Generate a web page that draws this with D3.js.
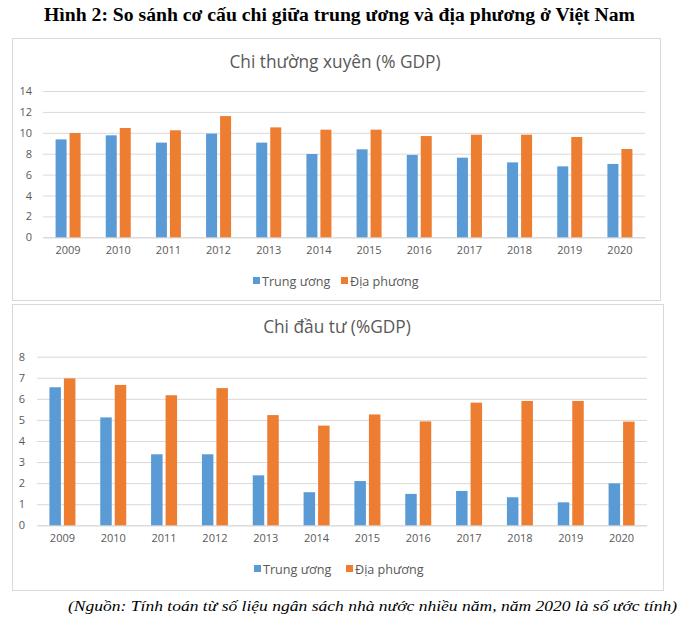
<!DOCTYPE html>
<html><head><meta charset="utf-8">
<script src="https://cdn.jsdelivr.net/npm/d3@7"></script>
<style>
body{margin:0;background:#fff;}
svg{display:block;}
</style></head>
<body>
<svg id="c" width="680" height="624"></svg>
<script>
const years = ["2009","2010","2011","2012","2013","2014","2015","2016","2017","2018","2019","2020"];
const seriesNames = ["Trung ương","Địa phương"];
const colors = ["#5B9BD5","#ED7D31"];
const thuongXuyenTW = [9.37,9.76,9.06,9.92,9.06,7.97,8.42,7.88,7.62,7.17,6.79,7.02];
const thuongXuyenDP = [9.98,10.46,10.24,11.6,10.52,10.3,10.3,9.69,9.82,9.82,9.6,8.45];
const dauTuTW = [6.55,5.12,3.37,3.37,2.37,1.57,2.10,1.49,1.63,1.33,1.09,1.99];
const dauTuDP = [6.97,6.66,6.17,6.51,5.23,4.73,5.26,4.93,5.82,5.90,5.90,4.92];
const ticks1 = [0,2,4,6,8,10,12,14];
const ticks2 = [0,1,2,3,4,5,6,7,8];

const svg = d3.select("#c");
const fontSans = "'Open Sans', 'Liberation Sans', sans-serif";
const textGray = "#595959";

svg.append("text").attr("x",44).attr("y",21)
  .attr("font-family","'Liberation Serif', 'Times New Roman', serif").attr("font-weight","bold")
  .attr("font-size",18.5).attr("fill","#000")
  .attr("textLength",591).attr("lengthAdjust","spacingAndGlyphs")
  .text("Hình 2: So sánh cơ cấu chi giữa trung ương và địa phương ở Việt Nam");

svg.append("text").attr("x",68).attr("y",611)
  .attr("font-family","'Liberation Serif', 'Times New Roman', serif").attr("font-style","italic")
  .attr("font-size",15.5).attr("fill","#000")
  .attr("textLength",609).attr("lengthAdjust","spacingAndGlyphs")
  .text("(Nguồn: Tính toán từ số liệu ngân sách nhà nước nhiều năm, năm 2020 là số ước tính)");

function panel(cfg){
  const g = svg.append("g");
  g.append("rect").attr("x",cfg.box[0]+0.5).attr("y",cfg.box[1]+0.5)
    .attr("width",cfg.box[2]).attr("height",cfg.box[3])
    .attr("fill","#fff").attr("stroke","#D9D9D9");
  g.append("text").attr("x",cfg.titleX).attr("y",cfg.titleY).attr("text-anchor","middle")
    .attr("font-family",fontSans).attr("font-size",17.3).attr("fill",textGray).text(cfg.title);
  const x = d3.scaleBand().domain(years).range([cfg.x0,cfg.x1]);
  const y = d3.scaleLinear().domain([0,cfg.max]).range([cfg.y0,cfg.y1]);
  const yAxis = d3.axisLeft(y).tickValues(cfg.ticks).tickSize(-(cfg.x1-cfg.x0)).tickPadding(cfg.tickPad);
  const ga = g.append("g").attr("transform",`translate(${cfg.x0},0)`).call(yAxis);
  ga.select(".domain").remove();
  ga.selectAll("line").attr("stroke","#D9D9D9");
  ga.selectAll("text").attr("font-family",fontSans).attr("font-size",11).attr("fill",textGray);
  const xAxis = d3.axisBottom(x).tickSize(0).tickPadding(9);
  const gx = g.append("g").attr("transform",`translate(0,${cfg.y0})`).call(xAxis);
  gx.select(".domain").attr("stroke","#D9D9D9");
  gx.selectAll("text").attr("font-family",fontSans).attr("font-size",11).attr("fill",textGray);
  const inner = d3.scaleBand().domain([0,1]).range([0,cfg.bw*2+cfg.gap]).paddingInner(cfg.gap/(cfg.bw+cfg.gap));
  const groupW = cfg.bw*2+cfg.gap;
  [cfg.a,cfg.b].forEach((arr,si)=>{
    g.append("g").selectAll("rect").data(arr).join("rect")
      .attr("x",(d,i)=>x(years[i])+x.bandwidth()/2-groupW/2+inner(si))
      .attr("width",inner.bandwidth())
      .attr("y",d=>y(d)).attr("height",d=>y(0)-y(d))
      .attr("fill",colors[si]);
  });
  const lg = g.append("g");
  cfg.legend.forEach((lx,i)=>{
    lg.append("rect").attr("x",lx).attr("y",cfg.legY-4).attr("width",7).attr("height",7).attr("fill",colors[i]);
    lg.append("text").attr("x",lx+9).attr("y",cfg.legY+4.5).attr("font-family",fontSans)
      .attr("font-size",12.6).attr("fill",textGray).text(seriesNames[i]);
  });
}

panel({box:[12,38,648,262], title:"Chi thường xuyên (% GDP)", titleX:335, titleY:68,
  x0:43, x1:645, y0:237.3, y1:91, max:14, ticks:ticks1, tickPad:11,
  a:thuongXuyenTW, b:thuongXuyenDP, bw:11, gap:3, legY:281, legend:[253,341]});
panel({box:[12,304,651,286], title:"Chi đầu tư (%GDP)", titleX:337, titleY:333,
  x0:37, x1:647, y0:525.3, y1:356.7, max:8, ticks:ticks2, tickPad:12,
  a:dauTuTW, b:dauTuDP, bw:11.5, gap:3, legY:569, legend:[254,346]});
</script>
</body></html>
